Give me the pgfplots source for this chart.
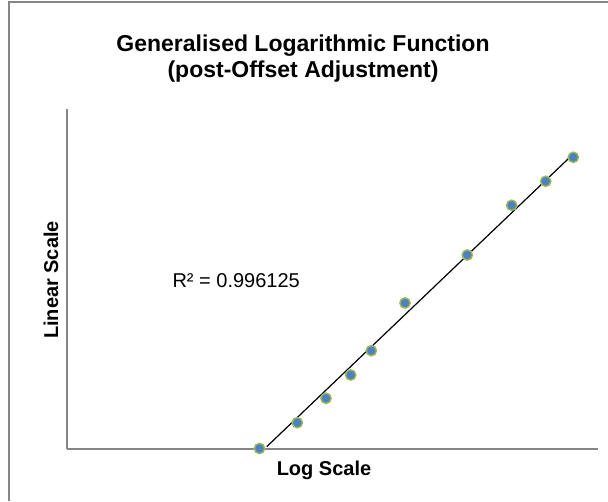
\documentclass[border=0pt]{standalone}
\usepackage{pgfplots}
\pgfplotsset{compat=1.18}
\usepackage{fontspec}
\setmainfont{Liberation Sans}
\definecolor{ptblue}{HTML}{4F81BD}
\definecolor{ptgreen}{HTML}{9BBB59}
\definecolor{axgray}{HTML}{868686}
\begin{document}
\begin{tikzpicture}[x=1pt,y=1pt]
\useasboundingbox (0,0) rectangle (608,501);
\draw[axgray, line width=1.3pt] (9,0) -- (9,499) -- (608,499);
\begin{axis}[
  at={(67pt,52pt)}, anchor=south west,
  width=531pt, height=340pt, scale only axis,
  xmin=67, xmax=598, ymin=52, ymax=392,
  axis x line*=bottom, axis y line*=left,
  axis line style={draw=axgray, line width=1.3pt, -},
  xtick=\empty, ytick=\empty,
  clip=false,
]
\addplot[black, line width=1.2pt] coordinates {(266.7,54.3) (574,347.7)};
\addplot[only marks, mark=*, mark size=5.2pt,
  mark options={fill=ptblue, draw=ptgreen, line width=1.4pt}] coordinates {
(259.5,52.5) (297.3,78.3) (326,102.7) (350.7,126) (371.3,150.3)
(405,198) (467.3,246) (511.7,295.7) (545.7,319.7) (573.3,343.7)
};
\end{axis}
\node[anchor=base, font=\fontsize{23}{27}\selectfont\bfseries] at (303,449) {Generalised Logarithmic Function};
\node[anchor=base, font=\fontsize{23}{27}\selectfont\bfseries] at (303,423) {(post-Offset Adjustment)};
\node[anchor=base, font=\fontsize{20}{24}\selectfont\bfseries] at (324,26) {Log Scale};
\node[rotate=90, font=\fontsize{20}{24}\selectfont\bfseries] at (51,221) {Linear Scale};
\node[anchor=base west, font=\fontsize{20}{24}\selectfont] at (169,213) {R² = 0.996125};
\end{tikzpicture}
\end{document}
